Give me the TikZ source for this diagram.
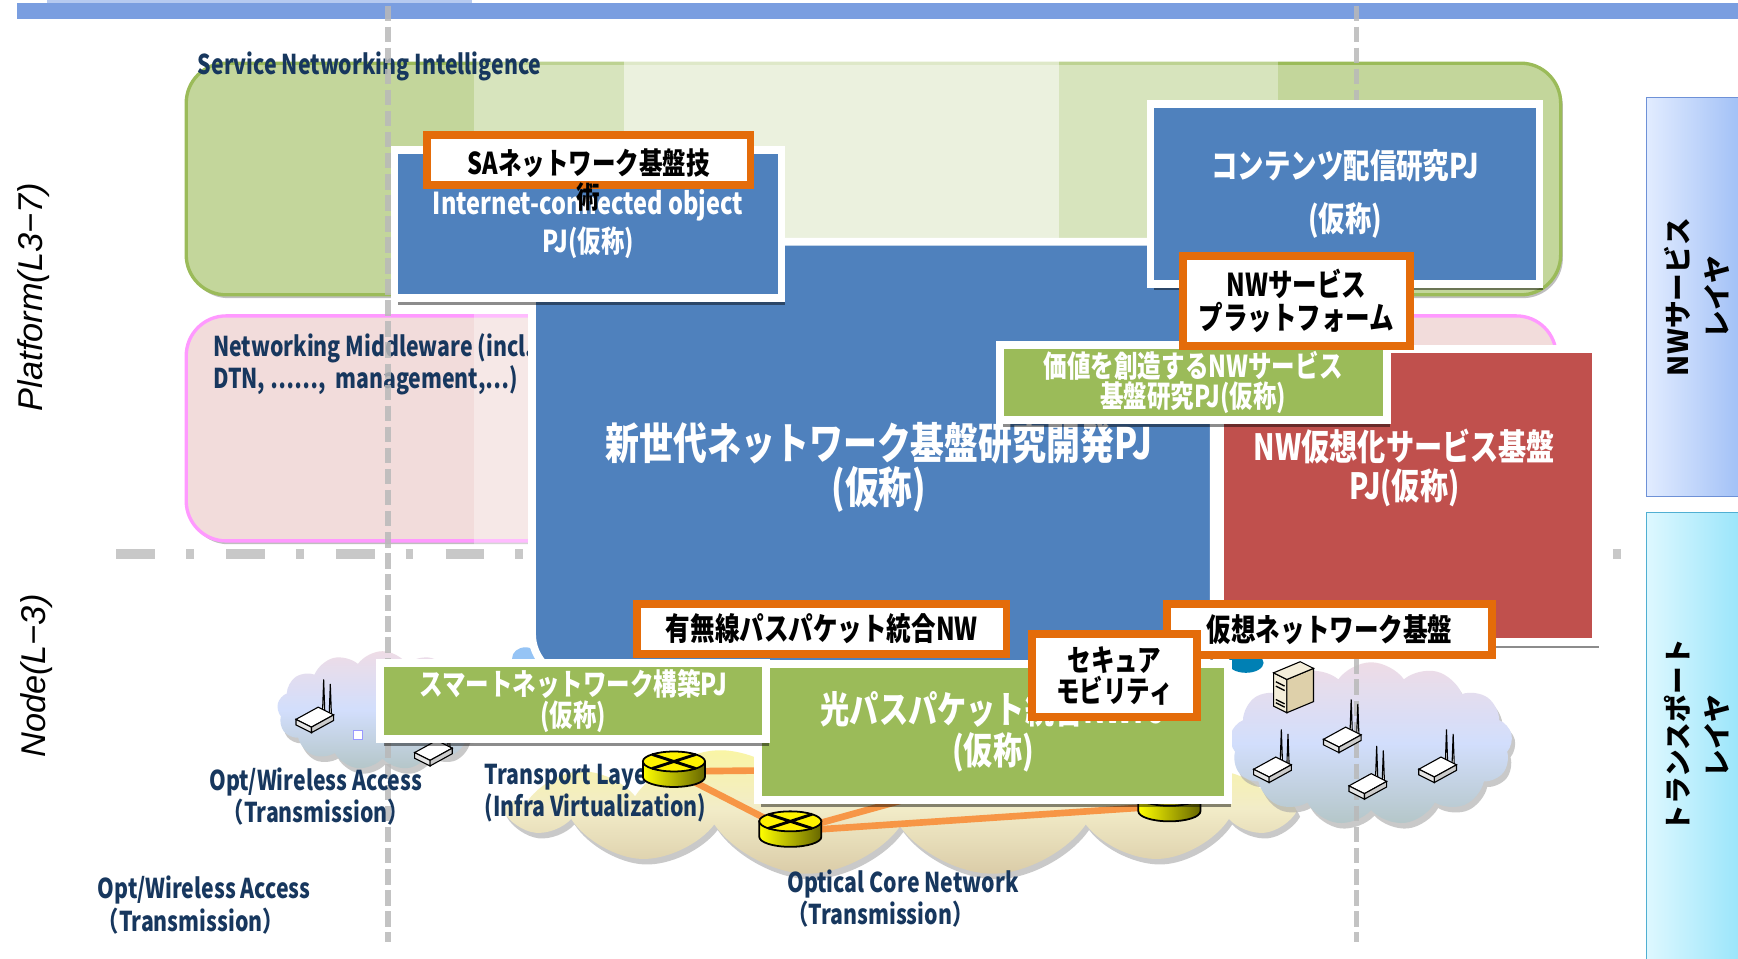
\documentclass[tikz,border=0pt]{standalone}
\usepackage{fontspec}
\setmainfont{Liberation Sans}
\newfontfamily\jpfont{Noto Sans CJK JP}[FakeStretch=0.78]
\newfontfamily\jpwide{Noto Sans CJK JP}
\usetikzlibrary{shapes.symbols,shadows,positioning}

\definecolor{barblue}{RGB}{122,158,224}
\definecolor{barlight}{RGB}{182,202,240}
\definecolor{pjblue}{RGB}{79,129,189}
\definecolor{pjgreen}{RGB}{155,187,89}
\definecolor{pjred}{RGB}{192,80,77}
\definecolor{pjorange}{RGB}{228,108,10}
\definecolor{labelnavy}{RGB}{23,55,94}
\definecolor{snigreen}{RGB}{195,214,155}
\definecolor{mwpink}{RGB}{242,220,219}
\definecolor{mwborder}{RGB}{255,153,255}
\definecolor{linkorange}{RGB}{247,150,70}
\definecolor{cloudpink}{RGB}{238,220,230}
\definecolor{cloudblue}{RGB}{210,222,252}
\definecolor{cloudbase}{RGB}{180,198,200}
\definecolor{coreyellow}{RGB}{250,246,160}
\definecolor{coremid}{RGB}{242,236,200}
\definecolor{coretan}{RGB}{218,204,168}
\definecolor{svcleft}{RGB}{226,236,255}
\definecolor{svcright}{RGB}{158,190,246}
\definecolor{svcedge}{RGB}{110,145,215}
\definecolor{trleft}{RGB}{222,248,255}
\definecolor{trright}{RGB}{150,228,250}
\definecolor{tredge}{RGB}{80,175,210}
\definecolor{blobblue}{RGB}{150,196,245}
\definecolor{blobteal}{RGB}{0,128,180}
\definecolor{srvfront}{RGB}{244,238,218}
\definecolor{srvside}{RGB}{222,208,170}
\definecolor{vdash}{RGB}{185,185,185}
\definecolor{hdash}{RGB}{200,200,200}

\begin{document}
\begin{tikzpicture}[x=0.5pt, y=-0.5pt,
    layerbox/.style={rounded corners=18pt, line width=1.5pt,
      drop shadow={shadow xshift=1pt, shadow yshift=-1.5pt, fill=gray, opacity=0.5}},
    pjbox/.style={draw=white, line width=3.5pt, text=white, align=center, inner sep=0pt,
      drop shadow={shadow xshift=1.5pt, shadow yshift=-3pt, fill=black, opacity=0.45}},
    tagbox/.style={draw=pjorange, line width=3.5pt, fill=white, align=center, inner sep=0pt},
    pjtext/.style={text=white, align=center, inner sep=0pt},
    navy/.style={text=labelnavy, inner sep=0pt, font={\jpfont\bfseries\fontsize{12.3}{14.5}\selectfont}},
    sidelabel/.style={rotate=90, inner sep=0pt, font={\itshape\fontsize{15.5}{18}\selectfont}},
    layerlabel/.style={rotate=90, align=center, inner sep=0pt, font={\jpwide\bfseries\fontsize{12.5}{17.5}\selectfont}},
    netcloud/.style={cloud, cloud puffs=13, cloud puff arc=110, inner sep=0pt,
      drop shadow={shadow xshift=1.5pt, shadow yshift=-2.5pt, fill=gray!70, opacity=0.6}},
    vline/.style={draw=vdash, line width=2.5pt, dash pattern=on 7pt off 2.5pt, opacity=0.85},
    hline/.style={draw=hdash, line width=4.5pt, dash pattern=on 17.5pt off 14pt on 3.5pt off 14.5pt},
    link/.style={draw=linkorange, line width=3pt},
    xrouter/.pic={
      \path[draw=black, line width=0.8pt, left color=yellow, right color=yellow!40!black]
        (-28,0) -- (-28,14) arc[start angle=180, end angle=0, x radius=28, y radius=9] -- (28,0) -- cycle;
      \draw[fill=yellow, line width=0.8pt] (0,0) ellipse[x radius=28, y radius=9];
      \draw[line width=1.3pt] (-19.8,-6.4) -- (19.8,6.4) (-19.8,6.4) -- (19.8,-6.4);
    },
    aprouter/.pic={
      \filldraw[fill=white, line width=0.5pt] (7,-3) -- (8,-32) -- (9,-3) -- cycle;
      \filldraw[fill=white, line width=0.5pt] (13,0) -- (14,-28) -- (15,0) -- cycle;
      \filldraw[fill=white, line width=0.5pt] (-17,4) -- (3,-7) -- (17,0) -- (-3,11) -- cycle;
      \filldraw[fill=gray!20, line width=0.5pt] (-17,4) -- (-17,9) -- (-3,16) -- (-3,11) -- cycle;
      \filldraw[fill=gray!40, line width=0.5pt] (-3,11) -- (-3,16) -- (17,5) -- (17,0) -- cycle;
    },
    servertower/.pic={
      \filldraw[fill=srvfront, line width=0.5pt] (-18,-12) -- (-6,-6) -- (-6,24) -- (-18,18) -- cycle;
      \filldraw[fill=srvside, line width=0.5pt] (-6,-6) -- (18,-16) -- (18,14) -- (-6,24) -- cycle;
      \filldraw[fill=srvfront, line width=0.5pt] (-18,-12) -- (6,-22) -- (18,-16) -- (-6,-6) -- cycle;
      \draw[line width=0.6pt] (-16,-4) -- (-8,0) (-16,0) -- (-8,4) (-16,12) -- (-8,16) (-16,15) -- (-8,19);
    }
  ]
  \useasboundingbox (0,0) rectangle (1568,865);
  \fill[white] (0,0) rectangle (1568,865);

  % top bar
  \fill[barlight] (42,0) rectangle (426,3);
  \fill[barblue] (15,3) rectangle (1568,17);

  % layer backgrounds
  \node[layerbox, draw=pjgreen, fill=snigreen, minimum width=620pt, minimum height=104.5pt] (sni) at (788,161.5) {};
  \node[layerbox, draw=mwborder, fill=mwpink, minimum width=618pt, minimum height=101.5pt] (mw) at (786,386.5) {};
  \fill[white, opacity=0.35] (428,50) rectangle (1153,272);
  \fill[white, opacity=0.5] (563,50) rectangle (955,272);
  \fill[white, opacity=0.35] (428,280) rectangle (1153,495);

  \node[navy, anchor=west] (snilabel) at (178,60) {Service Networking Intelligence};
  \node[navy, anchor=west, align=left] (mwlabel) at (192,328.5) {Networking Middleware (incl.\\DTN, ⋯⋯,\ \ management,⋯)};

  % layer divider
  \draw[hline] (105,500) -- (1469,500);

  % clouds
  \fill[blobblue] (474,594) ellipse[x radius=12, y radius=10];
  \fill[blobteal] (1124,598) ellipse[x radius=16, y radius=9];
  \node[netcloud, top color=cloudpink, bottom color=cloudbase, middle color=cloudblue,
    minimum width=95pt, minimum height=53.5pt] (accesscloud) at (345,641) {};
  \node[netcloud, top color=coreyellow, bottom color=coretan, middle color=coremid,
    minimum width=352pt, minimum height=60pt] (corecloud) at (812,730) {};
  \node[netcloud, top color=cloudpink, bottom color=cloudbase, middle color=cloudblue,
    minimum width=127.5pt, minimum height=73.5pt] (edgecloud) at (1237,671) {};

  % column guides
  \draw[vline] (350,5) -- (350,850);
  \draw[vline] (1224,5) -- (1224,850);

  % access side devices
  \pic (ap1) at (284,645) {aprouter};
  \pic (ap2) at (391,675) {aprouter};
  \draw[draw=blue!40, fill=white, line width=0.6pt] (319,659) rectangle (327,667);
  \pic (srv) at (1167,619) {servertower};
  \pic (ap3) at (1211,663) {aprouter};
  \pic (ap4) at (1148,690) {aprouter};
  \pic (ap5) at (1234,705) {aprouter};
  \pic (ap6) at (1297,690) {aprouter};

  % labels
  \node[navy, align=center] (acclabel) at (285,718.5) {Opt/Wireless Access\\（Transmission）};
  \node[navy, anchor=west, align=left] (acclabel2) at (88,816.5) {Opt/Wireless Access\\（Transmission）};
  \node[navy, anchor=west, align=left] (trlabel) at (437,715.5) {Transport Layer\\(Infra Virtualization)};
  \node[navy, anchor=west, align=left] (corelabel) at (710,811) {Optical Core Network\\（Transmission）};

  % core links
  \coordinate (r1c) at (608,696);
  \coordinate (r2c) at (713,750);
  \coordinate (r3c) at (1055,727);
  \coordinate (hidA) at (700,695);
  \coordinate (hidB) at (850,712);
  \draw[link] (r1c) -- (hidA);
  \draw[link] (r1c) -- (r2c);
  \draw[link] (r2c) -- (hidB);
  \draw[link] (r2c) -- (r3c);
  \pic (r1) at (608,687) {xrouter};
  \pic (r2) at (713,741) {xrouter};
  \pic (r3) at (1055,718) {xrouter};

  % projects
  \node[pjbox, fill=pjblue, rounded corners=20pt, minimum width=307.5pt, minimum height=197pt] (nwgen) at (787.5,415) {};
  \node[pjtext, font={\jpfont\bfseries\fontsize{19.6}{18.5}\selectfont}] (nwgentext) at (793,421.5) {新世代ネットワーク基盤研究開発PJ\\(仮称)};
  \node[pjbox, fill=pjred, minimum width=169.5pt, minimum height=132pt] (nwvirt) at (1270.5,447) {};
  \node[pjtext, font={\jpfont\bfseries\fontsize{16.3}{17.5}\selectfont}] (nwvirttext) at (1267,422.5) {NW仮想化サービス基盤\\PJ(仮称)};
  \node[pjbox, fill=pjblue, minimum width=174.5pt, minimum height=67pt,
    font={\jpfont\bfseries\fontsize{13.6}{17}\selectfont}] (iot) at (530.5,202) {Internet-connected object\\PJ(仮称)};
  \node[tagbox, minimum width=146pt, minimum height=22.5pt] (satag) at (531,144.5) {};
  \node[align=center, inner sep=0pt, font={\jpfont\bfseries\fontsize{13.6}{15.5}\selectfont}] (satext) at (531,162.5) {SAネットワーク基盤技\\術};
  \node[pjbox, fill=pjblue, minimum width=175.5pt, minimum height=81pt,
    font={\jpfont\bfseries\fontsize{15.3}{23.5}\selectfont}] (cdn) at (1213.5,175) {コンテンツ配信研究PJ\\(仮称)};
  \node[pjbox, fill=pjgreen, minimum width=174.5pt, minimum height=34pt,
    font={\jpfont\bfseries\fontsize{13.6}{11.5}\selectfont}] (value) at (1076.5,345) {価値を創造するNWサービス\\基盤研究PJ(仮称)};
  \node[tagbox, minimum width=102.5pt, minimum height=40.5pt,
    font={\jpfont\bfseries\fontsize{14.2}{15}\selectfont}] (nwplat) at (1169.5,271.5) {NWサービス\\プラットフォーム};
  \node[pjbox, fill=pjgreen, minimum width=212pt, minimum height=61.5pt,
    font={\jpfont\bfseries\fontsize{16.9}{18.5}\selectfont}] (optpp) at (896,660.5) {光パスパケット統合NWPJ\\(仮称)};
  \node[pjbox, fill=pjgreen, minimum width=174pt, minimum height=34.5pt,
    font={\jpfont\bfseries\fontsize{13.6}{11.5}\selectfont}] (smart) at (517,632.5) {スマートネットワーク構築PJ\\(仮称)};
  \node[tagbox, minimum width=166.5pt, minimum height=22.5pt,
    font={\jpfont\bfseries\fontsize{14.2}{15}\selectfont}] (hybrid) at (741.5,567.5) {有無線パスパケット統合NW};
  \node[tagbox, minimum width=146.5pt, minimum height=23pt,
    font={\jpfont\bfseries\fontsize{14.2}{15}\selectfont}] (vnet) at (1199.5,568) {仮想ネットワーク基盤};
  \node[tagbox, minimum width=74.5pt, minimum height=37.5pt,
    font={\jpfont\bfseries\fontsize{13.6}{14}\selectfont}] (secmob) at (1005.5,609.5) {セキュア\\モビリティ};

  % side labels
  \node[sidelabel] (platlabel) at (30,268) {Platform(L3−7)};
  \node[sidelabel] (nodelabel) at (33,610) {Node(L−3)};

  % layer panels
  \node[draw=svcedge, left color=svcleft, right color=svcright, minimum width=45pt, minimum height=180pt, inner sep=0pt] (svcpanel) at (1530,268) {};
  \node[layerlabel] (svctext) at (1531,268) {NWサービス\\レイヤ};
  \node[draw=tredge, left color=trleft, right color=trright, minimum width=45pt, minimum height=204pt, inner sep=0pt] (trpanel) at (1530,666) {};
  \node[layerlabel] (trtext) at (1531,664) {トランスポート\\レイヤ};
\end{tikzpicture}
\end{document}
